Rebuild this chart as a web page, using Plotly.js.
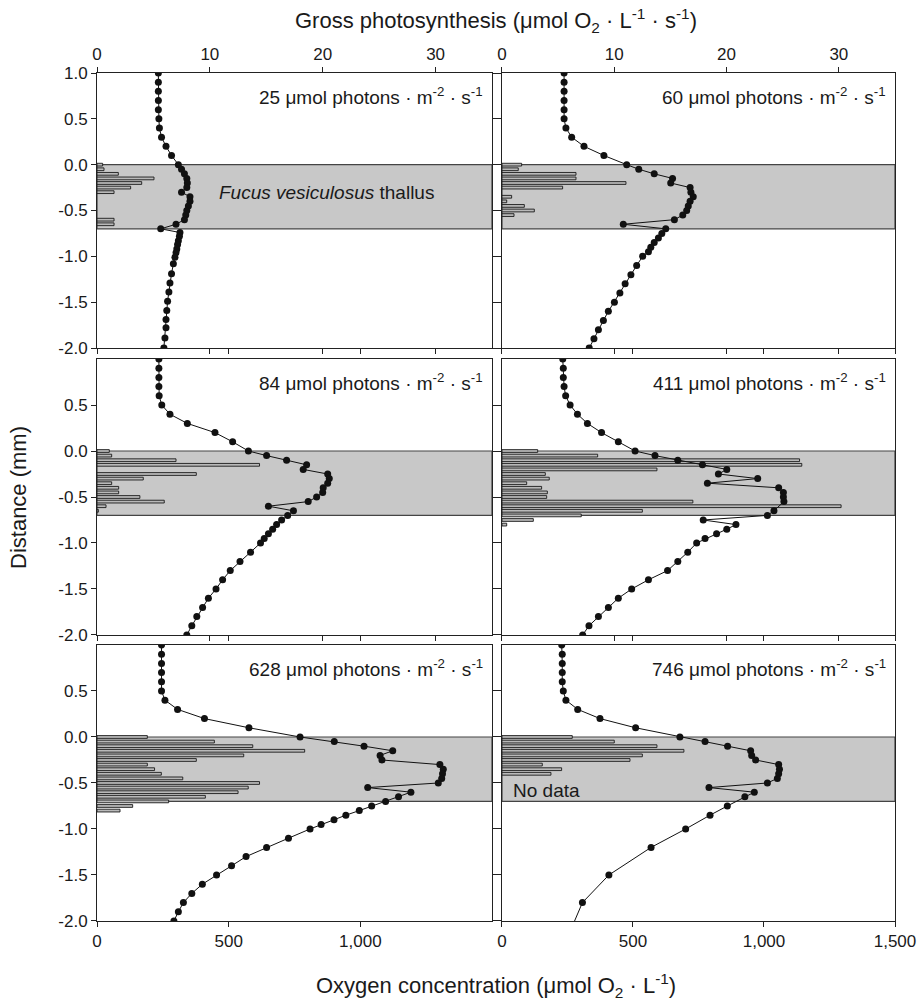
<!DOCTYPE html>
<html>
<head>
<meta charset="utf-8">
<script src="https://cdn.plot.ly/plotly-3.0.1.min.js"></script>
<style>html,body{margin:0;padding:0;background:#fff;}#chart{width:920px;height:1002px;}</style>
</head>
<body>
<div id="chart"></div>
<script>
// ---- Oxygen profiles (depth in mm, O2 in µmol/L) ----
const o2Depth25 = [1.0,0.9,0.8,0.7,0.6,0.5,0.4,0.3,0.2,0.1,0.0,-0.05,-0.1,-0.15,-0.2,-0.25,-0.3,-0.35,-0.4,-0.45,-0.5,-0.55,-0.6,-0.65,-0.7,-0.74,-0.78,-0.83,-0.87,-0.92,-0.96,-1.01,-1.08,-1.19,-1.29,-1.39,-1.49,-1.59,-1.69,-1.78,-1.89,-2.0];
const o2Conc25  = [233,233,233,233,233,235,237,245,262,283,309,321,332,341,343,341,321,353,353,347,341,337,332,300,242,315,313,309,306,303,300,296,290,283,277,273,268,265,262,262,258,254];

const o2Depth60 = [1.0,0.9,0.8,0.7,0.6,0.5,0.4,0.3,0.2,0.1,0.0,-0.05,-0.1,-0.15,-0.2,-0.25,-0.3,-0.35,-0.4,-0.45,-0.5,-0.55,-0.6,-0.65,-0.7,-0.75,-0.8,-0.85,-0.9,-0.95,-1.0,-1.1,-1.2,-1.3,-1.4,-1.5,-1.6,-1.7,-1.8,-1.9,-2.0];
const o2Conc60  = [237,237,237,237,237,237,244,266,313,389,476,522,581,651,644,718,721,730,718,711,705,690,658,463,625,610,597,581,568,559,537,514,492,470,450,429,406,387,368,351,333];

const o2Depth84 = [1.0,0.9,0.8,0.7,0.6,0.5,0.4,0.3,0.2,0.1,0.0,-0.05,-0.1,-0.15,-0.2,-0.25,-0.3,-0.35,-0.4,-0.45,-0.5,-0.55,-0.6,-0.65,-0.7,-0.75,-0.8,-0.85,-0.9,-0.95,-1.0,-1.1,-1.2,-1.3,-1.4,-1.5,-1.6,-1.7,-1.8,-1.9,-2.0];
const o2Conc84  = [235,235,235,235,236,246,277,343,448,515,575,644,720,796,783,876,882,876,859,857,834,802,651,746,724,701,682,667,651,635,621,583,543,506,477,452,423,401,379,360,341];

const o2Depth411 = [1.0,0.9,0.8,0.7,0.6,0.5,0.4,0.3,0.2,0.1,0.0,-0.05,-0.1,-0.15,-0.2,-0.25,-0.3,-0.35,-0.4,-0.45,-0.5,-0.55,-0.65,-0.7,-0.75,-0.8,-0.85,-0.9,-0.95,-1.0,-1.1,-1.2,-1.3,-1.4,-1.5,-1.6,-1.7,-1.8,-1.9,-2.0];
const o2Conc411  = [232,234,234,237,243,260,288,326,380,444,508,584,671,765,858,826,976,784,1056,1074,1074,1076,1038,1013,768,893,858,819,775,743,709,671,632,559,495,444,406,368,332,308];

const o2Depth628 = [1.0,0.9,0.8,0.7,0.6,0.5,0.4,0.3,0.2,0.1,0.0,-0.05,-0.1,-0.15,-0.2,-0.25,-0.3,-0.35,-0.4,-0.45,-0.5,-0.55,-0.6,-0.65,-0.7,-0.75,-0.8,-0.85,-0.9,-0.95,-1.0,-1.1,-1.2,-1.3,-1.4,-1.5,-1.6,-1.7,-1.8,-1.9,-2.0];
const o2Conc628  = [245,245,245,245,245,245,258,306,408,577,771,901,1014,1123,1075,1082,1302,1315,1312,1309,1296,1028,1192,1145,1096,1043,996,945,900,851,809,727,644,566,511,454,400,360,328,309,292];

const o2Depth746 = [1.0,0.9,0.8,0.7,0.6,0.5,0.4,0.3,0.2,0.1,0.0,-0.05,-0.1,-0.15,-0.2,-0.25,-0.3,-0.35,-0.4,-0.45,-0.5,-0.55,-0.6,-0.65,-0.75,-0.85,-1.0,-1.2,-1.5,-1.8,-2.1];
const o2Conc746  = [228,230,230,230,230,234,244,289,374,510,679,775,861,949,953,968,1056,1059,1056,1051,1013,790,963,927,860,794,701,569,408,307,262];

// ---- Gross photosynthesis (depth in mm, rate in µmol O2/L/s) ----
const psDepth25 = [0,-0.05,-0.1,-0.15,-0.2,-0.25,-0.3,-0.6,-0.65];
const psRate25  = [0.5,0.62,1.89,5.05,3.96,2.98,1.51,1.51,1.51];

const psDepth60 = [0,-0.05,-0.1,-0.15,-0.2,-0.25,-0.35,-0.4,-0.45,-0.5,-0.55];
const psRate60  = [1.75,1.45,6.59,6.59,11.04,5.4,0.86,0.42,1.99,2.88,1.07];

const psDepth84 = [0,-0.05,-0.1,-0.15,-0.25,-0.3,-0.35,-0.4,-0.45,-0.5,-0.55,-0.6,-0.65];
const psRate84  = [1.09,1.3,7.0,14.4,8.8,4.1,1.3,1.92,1.92,3.8,5.96,0.8,0.12];

const psDepth411 = [0,-0.05,-0.1,-0.15,-0.2,-0.25,-0.3,-0.35,-0.4,-0.45,-0.5,-0.55,-0.6,-0.65,-0.7,-0.75,-0.8];
const psRate411  = [3.18,8.52,26.5,26.7,13.8,3.86,4.21,2.2,3.53,4.04,3.98,17.0,30.2,12.5,7.06,2.79,0.42];

const psDepth628 = [0,-0.05,-0.1,-0.15,-0.2,-0.25,-0.3,-0.35,-0.4,-0.45,-0.5,-0.55,-0.6,-0.65,-0.7,-0.75,-0.8];
const psRate628  = [4.46,10.4,13.8,18.4,13.0,8.8,4.46,5.1,5.7,7.6,14.4,13.4,12.5,9.6,6.35,3.16,2.04];

const psDepth746 = [0,-0.05,-0.1,-0.15,-0.2,-0.25,-0.3,-0.35,-0.4];
const psRate746  = [6.26,10.0,13.8,16.2,12.5,11.4,3.59,5.31,4.36];

// ---- Labels / ticks ----
const lightLevels = ['25','60','84','411','628','746'];
const yTickValsTop = [1,0.5,0,-0.5,-1,-1.5,-2];
const yTickTextTop = ['1.0','0.5','0.0','-0.5','-1.0','-1.5','-2.0'];
const yTickValsLow = [0.5,0,-0.5,-1,-1.5,-2];
const yTickTextLow = ['0.5','0.0','-0.5','-1.0','-1.5','-2.0'];
const psTickVals = [0,10,20,30];
const o2TickValsLeft = [0,500,1000];
const o2TickValsRight = [0,500,1000,1500];
const thallusTop = 0, thallusBottom = -0.7;

// ---- Build ----
const panels = [
  {d:o2Depth25, c:o2Conc25, pd:psDepth25, pr:psRate25},
  {d:o2Depth60, c:o2Conc60, pd:psDepth60, pr:psRate60},
  {d:o2Depth84, c:o2Conc84, pd:psDepth84, pr:psRate84},
  {d:o2Depth411, c:o2Conc411, pd:psDepth411, pr:psRate411},
  {d:o2Depth628, c:o2Conc628, pd:psDepth628, pr:psRate628},
  {d:o2Depth746, c:o2Conc746, pd:psDepth746, pr:psRate746}
];
const FONT = 'Arial, "Liberation Sans", Helvetica, sans-serif';
const TXT = '#1a1a1a';
const TICK = 17, ANN = 19, TITLE = 22;
const xDom = [[0, 0.495], [0.5075, 1]];
const yDom = [[0.6757, 1], [0.3373, 0.6627], [0, 0.3255]];
const id = (l, n) => l + (n === 1 ? '' : n);
const key = (l, n) => l + 'axis' + (n === 1 ? '' : n);

const data = [];
const layout = {
  width: 920, height: 1002,
  margin: {l: 97, r: 25, t: 73, b: 81},
  paper_bgcolor: '#fff', plot_bgcolor: 'rgba(0,0,0,0)',
  showlegend: false,
  font: {family: FONT, size: 15, color: TXT},
  shapes: [], annotations: []
};

panels.forEach((p, i) => {
  const n = i + 1, no = i + 7;
  const row = Math.floor(i / 2), col = i % 2;
  const xb = id('x', n), xo = id('x', no), yy = id('y', n);

  data.push({
    type: 'bar', orientation: 'h', x: p.pr, y: p.pd, xaxis: xb, yaxis: yy,
    width: 0.03, marker: {color: '#b9b9b9', line: {color: '#1a1a1a', width: 0.9}},
    hoverinfo: 'skip'
  });
  data.push({
    type: 'scatter', mode: 'lines+markers', x: p.c, y: p.d, xaxis: xo, yaxis: yy,
    line: {color: '#111', width: 1}, marker: {color: '#111', size: 7},
    cliponaxis: true, hoverinfo: 'skip'
  });

  const base = {
    domain: xDom[col], range: [0, 35], anchor: yy, showgrid: false, zeroline: false,
    showline: true, linecolor: '#222', linewidth: 1, fixedrange: true,
    tickvals: psTickVals, ticklen: 5, tickcolor: '#222',
    tickfont: {family: FONT, size: TICK, color: TXT}
  };
  if (row === 0) { base.side = 'top'; base.ticks = 'outside'; base.mirror = 'ticks'; base.showticklabels = true; }
  else if (row === 1) { base.side = 'bottom'; base.ticks = 'outside'; base.mirror = true; base.showticklabels = false; }
  else { base.side = 'bottom'; base.ticks = ''; base.mirror = true; base.showticklabels = false; }
  layout[key('x', n)] = base;

  layout[key('x', no)] = {
    overlaying: xb, anchor: yy, side: 'bottom', range: [0, 1500], showgrid: false, zeroline: false,
    showline: false, ticks: 'outside', ticklen: 5, tickcolor: '#222', fixedrange: true,
    tickvals: col === 0 ? o2TickValsLeft : o2TickValsRight, tickformat: ',d',
    showticklabels: row === 2, tickfont: {family: FONT, size: TICK, color: TXT}
  };

  layout[key('y', n)] = {
    domain: yDom[row], range: [-2, 1], anchor: xb, showgrid: false, zeroline: false,
    showline: true, linecolor: '#222', linewidth: 1, fixedrange: true,
    ticks: 'outside', ticklen: 5, tickcolor: '#222',
    mirror: col === 0 ? 'ticks' : true,
    tickvals: row === 0 ? yTickValsTop : yTickValsLow,
    ticktext: row === 0 ? yTickTextTop : yTickTextLow,
    showticklabels: col === 0, tickfont: {family: FONT, size: TICK, color: TXT}
  };

  layout.shapes.push({
    type: 'rect', layer: 'below', xref: xb + ' domain', x0: 0, x1: 1,
    yref: yy, y0: thallusBottom, y1: thallusTop,
    fillcolor: '#c8c8c8', line: {color: '#444', width: 1.2}
  });

  layout.annotations.push({
    xref: xb + ' domain', x: 0.982, xanchor: 'right',
    yref: yy + ' domain', y: 0.918, yanchor: 'middle', showarrow: false,
    text: lightLevels[i] + ' μmol photons · m<sup>-2</sup> · s<sup>-1</sup>',
    font: {family: FONT, size: ANN, color: TXT}
  });
});

layout.annotations.push({
  xref: 'x domain', x: 0.582, xanchor: 'center', yref: 'y', y: -0.3, yanchor: 'middle',
  showarrow: false, text: '<i>Fucus vesiculosus</i> thallus', font: {family: FONT, size: ANN, color: TXT}
});
layout.annotations.push({
  xref: 'x6 domain', x: 0.022, xanchor: 'left', yref: 'y6', y: -0.58, yanchor: 'middle',
  showarrow: false, text: 'No data', font: {family: FONT, size: ANN, color: TXT}
});
layout.annotations.push({
  xref: 'paper', x: 0.5, xanchor: 'center', yref: 'paper', y: 1.0825, yanchor: 'top',
  showarrow: false, text: 'Gross photosynthesis (μmol O<sub>2</sub> · L<sup>-1</sup> · s<sup>-1</sup>)',
  font: {family: FONT, size: TITLE, color: TXT}
});
layout.annotations.push({
  xref: 'paper', x: 0.5, xanchor: 'center', yref: 'paper', y: -0.076, yanchor: 'middle',
  showarrow: false, text: 'Oxygen concentration (μmol O<sub>2</sub> · L<sup>-1</sup>)',
  font: {family: FONT, size: TITLE, color: TXT}
});
layout.annotations.push({
  xref: 'paper', x: -0.099, xanchor: 'center', yref: 'paper', y: 0.5, yanchor: 'middle',
  showarrow: false, textangle: -90, text: 'Distance (mm)',
  font: {family: FONT, size: TITLE, color: TXT}
});

Plotly.newPlot('chart', data, layout, {displayModeBar: false, staticPlot: true});
</script>
</body>
</html>
